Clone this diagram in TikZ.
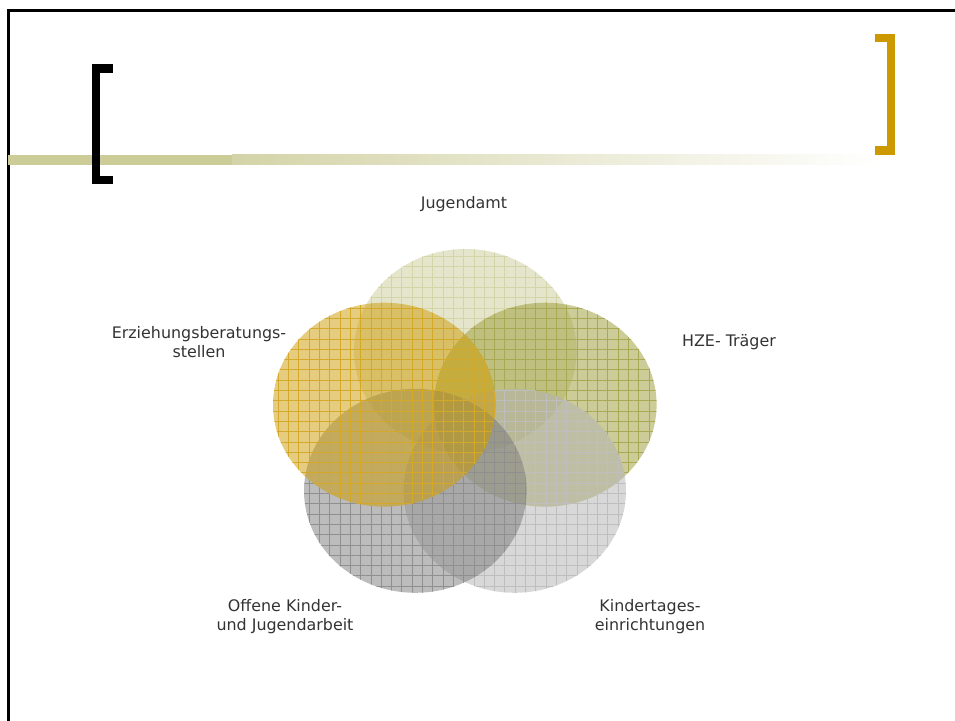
\documentclass[tikz,border=0pt]{standalone}
\usepackage{fontspec}
\setmainfont{DejaVu Sans}
\usetikzlibrary{shapes.geometric,patterns.meta}
\definecolor{jugC}{HTML}{CCCC99}
\definecolor{hzeC}{HTML}{999933}
\definecolor{erzC}{HTML}{CC9900}
\definecolor{offC}{HTML}{7A7A7A}
\definecolor{kinC}{HTML}{B2B2B2}
\definecolor{barC}{HTML}{CCCC99}
\definecolor{goldC}{HTML}{CC9900}
\definecolor{textC}{HTML}{333333}
\tikzset{
  venn/.style={ellipse, inner sep=0pt, minimum width=222.6pt, minimum height=204pt,
    fill=#1, fill opacity=0.5,
    postaction={pattern={Lines[distance=10.3pt,angle=0,line width=0.6pt]}, pattern color=#1!84!white},
    postaction={pattern={Lines[distance=10.3pt,angle=90,line width=0.6pt]}, pattern color=#1!84!white}},
  lbl/.style={text=textC, font=\fontsize{15.9}{19}\selectfont, align=center, inner sep=0pt},
  bracketline/.style={line width=8.5pt, miter limit=10}
}
\begin{document}
\begin{tikzpicture}[x=1pt,y=-1pt]
\useasboundingbox (0,0) rectangle (955,720);
% frame (left and top)
\coordinate (fbl) at (8.5,721);
\coordinate (ftl) at (8.5,10.5);
\coordinate (ftr) at (956,10.5);
\draw[line width=2.6pt, line join=miter] (fbl) -- (ftl) -- (ftr);
% title bar
\fill[barC] (8,154.5) rectangle (232,164.5);
\shade[left color=barC!85!white, right color=white] (232,154.5) rectangle (880,164.5);
% brackets
\coordinate (lb1) at (112.5,68.3);
\coordinate (lb2) at (96,68.3);
\coordinate (lb3) at (96,179.8);
\coordinate (lb4) at (112.5,179.8);
\draw[bracketline, black] (lb1) -- (lb2) -- (lb3) -- (lb4);
\coordinate (rb1) at (874.5,38.2);
\coordinate (rb2) at (890.8,38.2);
\coordinate (rb3) at (890.8,150.6);
\coordinate (rb4) at (874.5,150.6);
\draw[bracketline, goldC] (rb1) -- (rb2) -- (rb3) -- (rb4);
% venn ellipses (drawn clockwise from top, last on top)
\node[venn=jugC] (jug) at (465.3,351) {};
\node[venn=hzeC] (hze) at (545.3,404.7) {};
\node[venn=kinC] (kin) at (514.7,490.8) {};
\node[venn=offC] (off) at (415.3,490.8) {};
\node[venn=erzC] (erz) at (384.3,404.7) {};
% labels
\node[lbl] (tjug) at (464,204) {Jugendamt};
\node[lbl] (thze) at (729,342) {HZE- Träger};
\node[lbl] (terz) at (199,342.5) {Erziehungsberatungs-\\stellen};
\node[lbl] (toff) at (285,616.5) {Offene Kinder-\\und Jugendarbeit};
\node[lbl] (tkin) at (650,616.5) {Kindertages-\\einrichtungen};
\end{tikzpicture}
\end{document}
